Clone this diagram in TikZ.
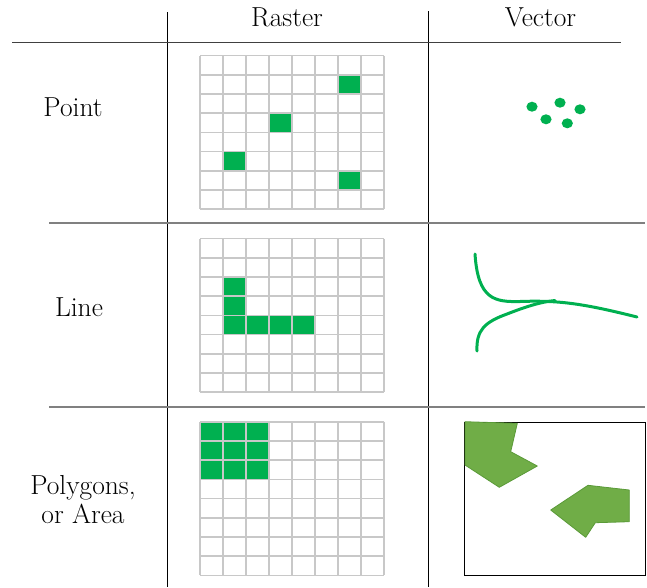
\documentclass[tikz,border=0pt]{standalone}
\definecolor{cellgreen}{HTML}{00B050}
\definecolor{polyfill}{HTML}{70AD47}
\definecolor{polyedge}{HTML}{5A9A38}
\definecolor{gridgray}{HTML}{C8C8C8}
\definecolor{rulegray}{HTML}{808080}
\definecolor{headgray}{HTML}{404040}
\begin{document}
\begin{tikzpicture}[x=1pt,y=-1pt,
  lbl/.style={font=\fontsize{27.5}{29}\selectfont, align=center, inner sep=0pt},
  gridline/.style={draw=gridgray, line width=1.6pt},
  vrule/.style={draw=black, line width=1.1pt},
  hrule/.style={draw=rulegray, line width=1.8pt},
  headrule/.style={draw=headgray, line width=1.3pt},
  vline/.style={draw=cellgreen, line width=3pt, line cap=round},
  poly/.style={fill=polyfill, draw=polyedge, line width=0.8pt, line join=round},
  dot/.style={fill=cellgreen}]
\useasboundingbox (0,0) rectangle (647,587);
% table rules
\draw[vrule] (167.5,12) -- (167.5,587);
\draw[vrule] (428.5,11) -- (428.5,587);
\draw[headrule] (12,42.5) -- (621,42.5);
\draw[hrule] (49,223.3) -- (645,223.3);
\draw[hrule] (49,406.7) -- (645,406.7);
% headers and row labels
\node[lbl, anchor=base] (raster) at (287,26) {Raster};
\node[lbl, anchor=base] (vector) at (540.5,26) {Vector};
\node[lbl, anchor=base] (point) at (73,116.7) {Point};
\node[lbl, anchor=base] (line) at (79,316.7) {Line};
\node[lbl] (area) at (83,499.5) {Polygons,\\or Area};
% raster grids
\foreach \T/\cells in {55.5/{6/1,3/3,1/5,6/6}, 238.5/{1/2,1/3,1/4,2/4,3/4,4/4}, 421.7/{0/0,1/0,2/0,0/1,1/1,2/1,0/2,1/2,2/2}}{
  \begin{scope}[shift={(200,\T)}]
    \foreach \c/\r in \cells
      \fill[cellgreen] (\c*23,\r*19.2) rectangle ++(23,19.2);
    \foreach \i in {0,...,8}
      \draw[gridline] (\i*23,0) -- (\i*23,153.6);
    \foreach \j in {0,...,8}
      \draw[gridline] (0,\j*19.2) -- (184,\j*19.2);
  \end{scope}
}
% vector points
\foreach \px/\py in {532/106.7, 560/102.7, 580/109.3, 546/119.3, 567.3/123.3}
  \fill[dot] (\px,\py) ellipse[x radius=5.6, y radius=5];
% vector lines
\draw[vline] (475,254) .. controls (478,300) and (495,302) .. (520,301.5)
  .. controls (560,300) and (585,304) .. (637,317);
\draw[vline] (477,351) .. controls (476,330) and (485,322) .. (507,314)
  .. controls (525,307) and (540,302) .. (555,300.5);
% vector polygons
\draw[black, line width=1pt] (464.5,422.7) rectangle (645,575);
\draw[poly] (465,421.7) -- (517.3,423.3) -- (510.7,451.7) -- (537.3,466) -- (499.3,487.3) -- (465,465) -- cycle;
\draw[poly] (588,485.3) -- (629.3,490) -- (629.3,521.7) -- (595.3,522.7) -- (585.7,537.3) -- (550.7,510) -- cycle;
\end{tikzpicture}
\end{document}
